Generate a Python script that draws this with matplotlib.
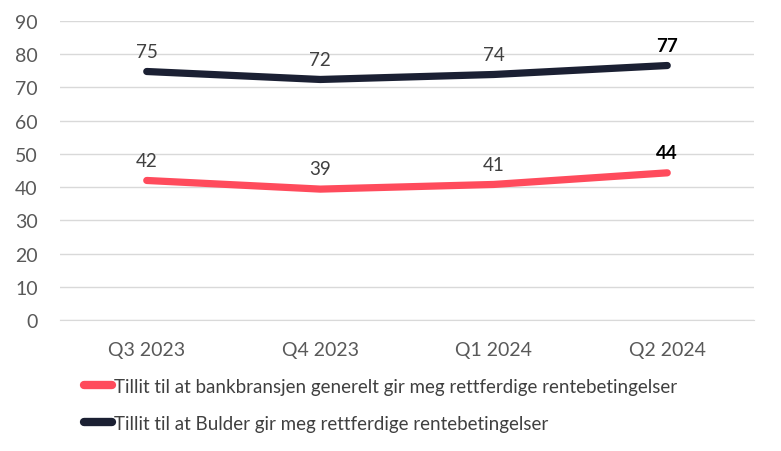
import matplotlib.pyplot as plt
from matplotlib.lines import Line2D

plt.rcParams['font.family'] = ['Lato', 'DejaVu Sans']

quarters = ["Q3 2023", "Q4 2023", "Q1 2024", "Q2 2024"]
bank = [42.0, 39.4, 40.8, 44.3]
bulder = [74.8, 72.4, 73.9, 76.6]
bank_label = "Tillit til at bankbransjen generelt gir meg rettferdige rentebetingelser"
bulder_label = "Tillit til at Bulder gir meg rettferdige rentebetingelser"

RED = "#FF4B5C"
NAVY = "#1B2033"

fig = plt.figure(figsize=(7.81, 4.52), dpi=100)
ax = fig.add_axes([60 / 781, 1 - 321 / 452, 694 / 781, 299 / 452])

x = range(len(quarters))
for vals, col in [(bank, RED), (bulder, NAVY)]:
    ax.plot(x, vals, color=col, lw=5.2, solid_capstyle="round", solid_joinstyle="round", zorder=3)
    for i, v in enumerate(vals):
        last = i == len(vals) - 1
        ax.annotate(f"{v:.0f}", (i, v), xytext=(0, 8.5), textcoords="offset points",
                    ha="center", va="bottom", fontsize=13.5,
                    color="black" if last else "#404040",
                    fontweight="bold" if last else "normal")

ax.set_xlim(-0.5, 3.5)
ax.set_ylim(0, 90)
ax.set_yticks(range(0, 91, 10))
ax.set_xticks(list(x))
ax.set_xticklabels(quarters)
ax.grid(axis="y", color="#D9D9D9", lw=1)
ax.set_axisbelow(True)
for s in ["top", "right", "left"]:
    ax.spines[s].set_visible(False)
ax.spines["bottom"].set_color("#D9D9D9")
ax.tick_params(length=0, labelsize=14, colors="#595959")
ax.tick_params(axis="x", pad=15)
ax.tick_params(axis="y", pad=16)

handles = [Line2D([], [], color=RED, lw=6, solid_capstyle="round"),
           Line2D([], [], color=NAVY, lw=6, solid_capstyle="round")]
fig.legend(handles, [bank_label, bulder_label], loc="upper left",
           bbox_to_anchor=(84 / 781, 1 - 379 / 452), frameon=False,
           fontsize=13.5, handlelength=1.5, handletextpad=0.1,
           labelspacing=1.05, labelcolor="#404040", borderaxespad=0, borderpad=0)

fig.savefig("out.png", dpi=100)
